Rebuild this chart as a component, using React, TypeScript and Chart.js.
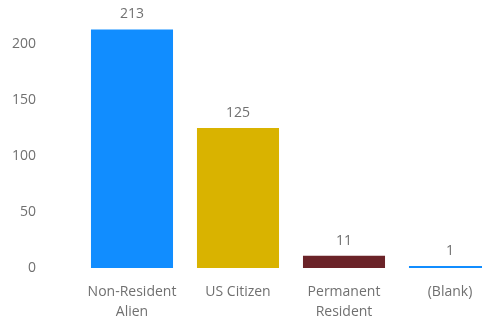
import React, { useEffect, useRef } from "react";
import { Chart, registerables } from "chart.js";

Chart.register(...registerables);

const categories: string[][] = [["Non-Resident", "Alien"], ["US Citizen"], ["Permanent", "Resident"], ["(Blank)"]];
const values: number[] = [213, 125, 11, 1];
const barColors: string[] = ["#118DFF", "#D9B300", "#6B2328", "#118DFF"];
const yTicks: number[] = [0, 50, 100, 150, 200];

const FONT = "'Open Sans', 'Noto Sans', sans-serif";
const TEXT = "#707070";

const valueLabels = {
  id: "valueLabels",
  afterDatasetsDraw(chart: any) {
    const ctx = chart.ctx;
    const meta = chart.getDatasetMeta(0);
    ctx.save();
    ctx.font = `14px ${FONT}`;
    ctx.fillStyle = TEXT;
    ctx.textAlign = "center";
    ctx.textBaseline = "alphabetic";
    meta.data.forEach((bar: any, i: number) => {
      ctx.fillText(String(values[i]), bar.x, bar.y - 11);
    });
    ctx.restore();
  },
};

export default function App() {
  const ref = useRef<HTMLCanvasElement>(null);
  useEffect(() => {
    if (!ref.current) return;
    const chart = new Chart(ref.current, {
      type: "bar",
      data: {
        labels: categories,
        datasets: [
          {
            data: values,
            backgroundColor: barColors,
            categoryPercentage: 1,
            barPercentage: 0.774,
            minBarLength: 2,
            clip: false,
          },
        ],
      },
      options: {
        animation: false,
        responsive: false,
        maintainAspectRatio: false,
        layout: { padding: 0 },
        plugins: { legend: { display: false }, tooltip: { enabled: false } },
        scales: {
          x: {
            grid: { display: false, drawTicks: false },
            border: { display: false },
            ticks: {
              color: TEXT,
              font: { family: FONT, size: 14, lineHeight: 1.43 },
              padding: 14,
              maxRotation: 0,
              autoSkip: false,
            },
            afterFit(scale: any) {
              scale.height = 54;
              scale.paddingLeft = 0;
              scale.paddingRight = 0;
            },
          },
          y: {
            min: 0,
            max: 268 / 1.12,
            bounds: "data",
            grid: { display: false, drawTicks: false },
            border: { display: false },
            afterBuildTicks(scale: any) {
              scale.ticks = yTicks.map((v) => ({ value: v }));
            },
            ticks: {
              color: TEXT,
              font: { family: FONT, size: 14 },
              padding: 43,
              includeBounds: false,
            },
            afterFit(scale: any) {
              scale.width = 79;
              scale.paddingTop = 0;
              scale.paddingBottom = 0;
            },
          },
        },
      },
      plugins: [valueLabels],
    });
    return () => chart.destroy();
  }, []);
  return (
    <div style={{ position: "fixed", left: 0, top: 0, width: 482, height: 322, overflow: "hidden", background: "#fff" }}>
      <canvas ref={ref} width={503} height={322} style={{ display: "block", width: 503, height: 322 }} />
    </div>
  );
}
